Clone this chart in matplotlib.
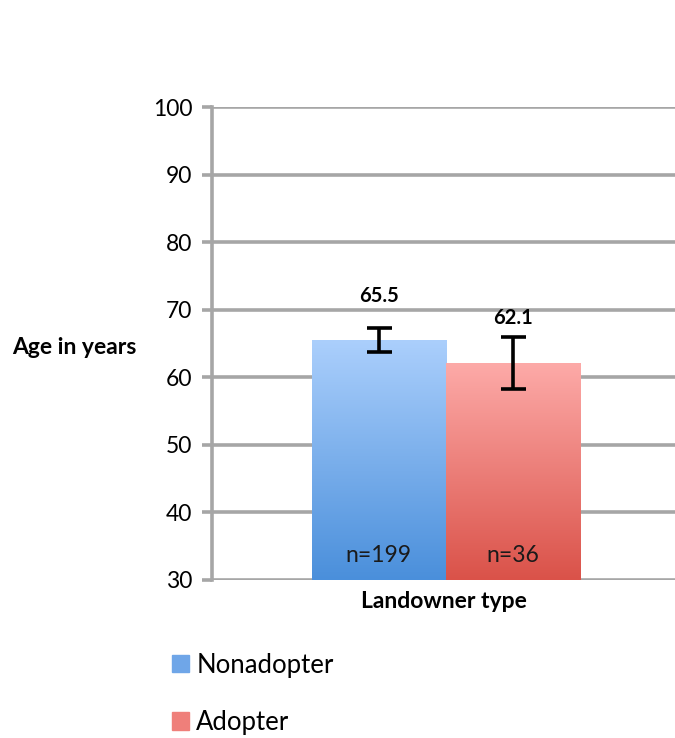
import numpy as np
import matplotlib
matplotlib.use("Agg")
import matplotlib.pyplot as plt
from matplotlib.colors import LinearSegmentedColormap

plt.rcParams["font.family"] = ["Lato", "DejaVu Sans"]

groups = ["Nonadopter", "Adopter"]
means = [65.5, 62.1]
errors = [1.8, 3.9]
counts = ["n=199", "n=36"]
yticks = [30, 40, 50, 60, 70, 80, 90, 100]

top_cols = ["#abcffc", "#fdaaa8"]
bot_cols = ["#4a8fdb", "#da5249"]
legend_cols = ["#6fa6e8", "#ef7f7a"]
label_pad = [3.3, 1.3]  # gap above error bar for the value labels

fig = plt.figure(figsize=(6.75, 7.38), dpi=100)
ax = fig.add_axes([212 / 675, 1 - 580 / 738, 1 - 212 / 675, 473 / 738])
ax.set_ylim(30, 100)
ax.set_xlim(0, 1)

width = 0.29
xs = [0.505 - width / 2, 0.505 + width / 2]
bars = ax.bar(xs, [m - 30 for m in means], width, bottom=30, color="none",
              edgecolor="none", zorder=3)

# gradient fill clipped to each bar
for bar, c0, c1 in zip(bars, top_cols, bot_cols):
    cmap = LinearSegmentedColormap.from_list("g", [c1, c0])
    x0, y0 = bar.get_x(), bar.get_y()
    grad = np.linspace(0, 1, 256).reshape(-1, 1)
    im = ax.imshow(grad, cmap=cmap, origin="lower", aspect="auto",
                   extent=[x0, x0 + bar.get_width(), y0, y0 + bar.get_height()],
                   zorder=3)
    im.set_clip_path(bar)
ax.set_xlim(0, 1)
ax.set_ylim(30, 100)

ax.errorbar(xs, means, yerr=errors, fmt="none", ecolor="black", elinewidth=2.6,
            capsize=9, capthick=2.6, zorder=5)

for x, m, e, p in zip(xs, means, errors, label_pad):
    ax.text(x, m + e + p, f"{m}", ha="center", va="bottom", fontsize=14.5,
            fontweight="bold", zorder=6)
for x, n in zip(xs, counts):
    ax.text(x, 33.6, n, ha="center", va="center", fontsize=16.5, color="#1a1a1a",
            zorder=6)

ax.set_yticks(yticks)
ax.yaxis.grid(True, color="#a6a6a6", linewidth=2.6, zorder=1)
ax.set_axisbelow(True)
ax.set_xticks([])
for s in ["top", "right", "bottom"]:
    ax.spines[s].set_visible(False)
ax.spines["left"].set_color("#a6a6a6")
ax.spines["left"].set_linewidth(2.6)
ax.tick_params(axis="y", length=7, width=2.6, color="#a6a6a6", labelsize=16.5,
               pad=7)
ax.set_xlabel("Landowner type", fontsize=16.5, fontweight="bold", labelpad=8)

fig.text(12 / 675, 1 - 348 / 738, "Age in years", ha="left", va="center",
         fontsize=16.5, fontweight="bold")

handles = [plt.Rectangle((0, 0), 1, 1, color=c) for c in legend_cols]
fig.legend(handles, groups, loc="upper left", bbox_to_anchor=(159 / 675, 1 - 640 / 738),
           frameon=False, fontsize=18.5, handlelength=0.65, handleheight=0.65,
           handletextpad=0.3, labelspacing=1.25, borderpad=0)

fig.savefig("out.png", dpi=100)
